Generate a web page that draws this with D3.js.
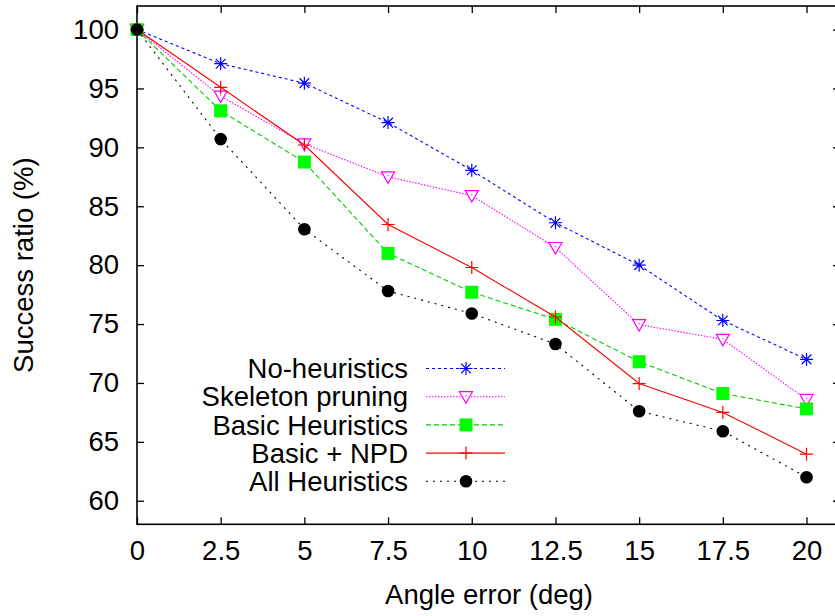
<!DOCTYPE html>
<html>
<head>
<meta charset="utf-8">
<script src="https://cdn.jsdelivr.net/npm/d3@7"></script>
<style>
  body { margin: 0; background: #fff; }
  svg text { font-family: "Liberation Sans", Arial, sans-serif; fill: #000; }
</style>
</head>
<body>
<div id="chart"></div>
<script>
// angle error (deg)
var angles = [0, 2.5, 5, 7.5, 10, 12.5, 15, 17.5, 20];

// success ratio (%) per method
var noHeuristics    = [100, 97.1, 95.45, 92.1, 88.05, 83.6, 80.0, 75.3, 72.0];
var skeletonPruning = [100, 94.35, 90.3, 87.5, 85.9, 81.5, 74.95, 73.7, 68.6];
var basicHeuristics = [100, 93.1, 88.75, 81.0, 77.7, 75.4, 71.8, 69.1, 67.8];
var basicNPD        = [100, 95.1, 90.2, 83.45, 79.8, 75.6, 69.95, 67.5, 63.95];
var allHeuristics   = [100, 90.7, 83.05, 77.8, 75.9, 73.3, 67.6, 65.9, 62.0];

var seriesNames = ["No-heuristics", "Skeleton pruning", "Basic Heuristics", "Basic + NPD", "All Heuristics"];

var xTicks = [0, 2.5, 5, 7.5, 10, 12.5, 15, 17.5, 20];
var yTicks = [60, 65, 70, 75, 80, 85, 90, 95, 100];

var width = 835, height = 616;
var plotLeft = 137, plotTop = 6, plotRight = 840, plotBottom = 524.3;
var fontSize = "27.5px";

var svg = d3.select("#chart").append("svg")
    .attr("width", width)
    .attr("height", height);

var x = d3.scaleLinear().domain([0, 21]).range([plotLeft, plotRight]);
var y = d3.scaleLinear().domain([58, 102]).range([plotBottom, plotTop]);

var styles = [
  { color: "#0000ff", dash: "3,3",     marker: "asterisk" },
  { color: "#ff00ff", dash: "1.5,1.5", marker: "triangle" },
  { color: "#00cc00", dash: "5,3",     marker: "square", fill: "#00ff00" },
  { color: "#ff0000", dash: null,      marker: "plus" },
  { color: "#000000", dash: "2,5",     marker: "circle" }
];

var series = [noHeuristics, skeletonPruning, basicHeuristics, basicNPD, allHeuristics].map(function(vals, i) {
  return { name: seriesNames[i], style: styles[i],
           points: vals.map(function(v, j) { return { x: angles[j], y: v }; }) };
});

// axes, ticks pointing inward on all four sides
var tick = 7;
function axisStyle(g) {
  g.select(".domain").remove();
  g.selectAll(".tick line").attr("stroke", "#000").attr("stroke-width", 1.3);
  g.selectAll(".tick text").style("font-size", fontSize).attr("fill", "#000");
}

svg.append("g")
    .attr("transform", "translate(0," + plotBottom + ")")
    .call(d3.axisBottom(x).tickValues(xTicks).tickSize(-tick).tickPadding(16).tickFormat(d3.format("")))
    .call(axisStyle);

svg.append("g")
    .attr("transform", "translate(0," + plotTop + ")")
    .call(d3.axisTop(x).tickValues(xTicks).tickSize(-tick).tickFormat(""))
    .call(axisStyle);

svg.append("g")
    .attr("transform", "translate(" + plotLeft + ",0)")
    .call(d3.axisLeft(y).tickValues(yTicks).tickSize(-tick).tickPadding(18))
    .call(axisStyle);

svg.append("g")
    .attr("transform", "translate(" + plotRight + ",0)")
    .call(d3.axisRight(y).tickValues(yTicks).tickSize(-tick).tickFormat(""))
    .call(axisStyle);

svg.append("rect")
    .attr("x", plotLeft).attr("y", plotTop)
    .attr("width", plotRight - plotLeft).attr("height", plotBottom - plotTop)
    .attr("fill", "none").attr("stroke", "#000").attr("stroke-width", 1.6);

// axis titles
svg.append("text")
    .attr("x", 489).attr("y", 604)
    .attr("text-anchor", "middle")
    .style("font-size", fontSize)
    .text("Angle error (deg)");

svg.append("text")
    .attr("transform", "translate(33," + ((plotTop + plotBottom) / 2) + ") rotate(-90)")
    .attr("text-anchor", "middle")
    .style("font-size", fontSize)
    .text("Success ratio (%)");

// marker shapes
function drawMarker(g, type, cx, cy, st) {
  var s = 6.5;
  if (type === "asterisk") {
    g.append("path")
        .attr("d", "M" + (cx - s) + "," + cy + "H" + (cx + s) +
                   "M" + cx + "," + (cy - s) + "V" + (cy + s) +
                   "M" + (cx - s * 0.75) + "," + (cy - s * 0.75) + "L" + (cx + s * 0.75) + "," + (cy + s * 0.75) +
                   "M" + (cx - s * 0.75) + "," + (cy + s * 0.75) + "L" + (cx + s * 0.75) + "," + (cy - s * 0.75))
        .attr("stroke", st.color).attr("stroke-width", 1.2).attr("fill", "none");
  } else if (type === "plus") {
    g.append("path")
        .attr("d", "M" + (cx - s) + "," + cy + "H" + (cx + s) +
                   "M" + cx + "," + (cy - s) + "V" + (cy + s))
        .attr("stroke", st.color).attr("stroke-width", 1.2).attr("fill", "none");
  } else if (type === "triangle") {
    g.append("path")
        .attr("d", "M" + (cx - 6.5) + "," + (cy - 5) + "H" + (cx + 6.5) + "L" + cx + "," + (cy + 6.5) + "Z")
        .attr("stroke", st.color).attr("stroke-width", 1.2).attr("fill", "#fff");
    g.append("circle").attr("cx", cx).attr("cy", cy - 1).attr("r", 0.7).attr("fill", st.color);
  } else if (type === "square") {
    g.append("rect")
        .attr("x", cx - 6.5).attr("y", cy - 6.5).attr("width", 13).attr("height", 13)
        .attr("fill", st.fill || st.color);
  } else if (type === "circle") {
    g.append("circle").attr("cx", cx).attr("cy", cy).attr("r", 6.3).attr("fill", st.color);
  }
}

var line = d3.line()
    .x(function(d) { return x(d.x); })
    .y(function(d) { return y(d.y); });

// lines and markers, one series after the other
var plot = svg.append("g");
series.forEach(function(s) {
  plot.append("path")
      .datum(s.points)
      .attr("d", line)
      .attr("fill", "none")
      .attr("stroke", s.style.color)
      .attr("stroke-width", 1.1)
      .attr("stroke-dasharray", s.style.dash);
  s.points.forEach(function(p) {
    drawMarker(plot, s.style.marker, x(p.x), y(p.y), s.style);
  });
});

// legend
var legend = svg.append("g");
series.forEach(function(s, i) {
  var ly = 368.5 + i * 28.2;
  legend.append("text")
      .attr("x", 408).attr("y", ly)
      .attr("dy", "0.35em")
      .attr("text-anchor", "end")
      .style("font-size", fontSize)
      .text(s.name);
  legend.append("line")
      .attr("x1", 426).attr("x2", 505)
      .attr("y1", ly).attr("y2", ly)
      .attr("stroke", s.style.color)
      .attr("stroke-width", 1.1)
      .attr("stroke-dasharray", s.style.dash);
  drawMarker(legend, s.style.marker, 466, ly, s.style);
});
</script>
</body>
</html>
